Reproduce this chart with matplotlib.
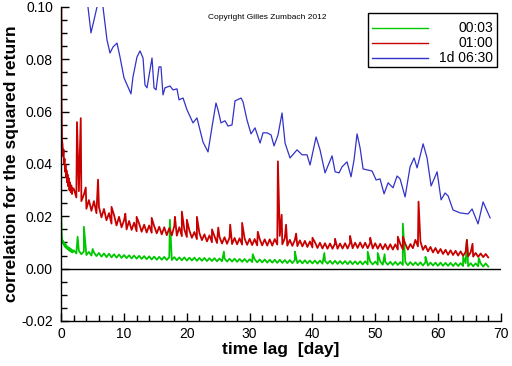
import matplotlib
matplotlib.use("Agg")
import matplotlib.pyplot as plt
import numpy as np
from matplotlib.patches import Rectangle

plt.rcParams["font.family"] = ["Liberation Sans", "DejaVu Sans"]

GREEN = "#00c800"
RED = "#c80000"
BLUE = "#3232c8"

# ---- 1d 06:30 (blue) ----
blue_lag = [4.0, 4.25, 4.73, 5.21, 5.69, 6.17, 6.64, 7.28, 7.76, 8.24, 8.87, 9.35, 9.99,
            10.63, 11.10, 11.42, 12.06, 12.54, 13.02, 13.33, 13.65, 14.45, 14.77, 15.09,
            15.56, 15.88, 16.20, 16.52, 17.31, 17.79, 18.43, 18.75, 19.39, 20.02, 20.98,
            21.61, 22.09, 22.57, 23.37, 24.01, 24.64, 24.96, 25.44, 26.08, 26.55, 27.19,
            27.67, 28.63, 28.95, 29.58, 30.22, 30.86, 31.66, 32.13, 32.77, 33.41, 33.89,
            34.52, 35.16, 35.64, 36.43, 37.55, 38.35, 39.14, 39.62, 40.58, 41.21, 42.01,
            43.13, 43.61, 44.24, 44.72, 45.51, 46.15, 46.63, 47.11, 47.59, 48.07, 49.50,
            50.14, 50.77, 51.41, 52.05, 52.84, 53.48, 53.96, 54.76, 55.55, 56.19, 56.67,
            57.63, 58.26, 58.90, 59.86, 60.49, 61.13, 61.61, 62.40, 63.52, 64.79, 65.43,
            66.38, 67.18, 68.30]
blue_corr = [0.1040, 0.1000, 0.0901, 0.0950, 0.1000, 0.1046, 0.1000, 0.0874, 0.0824, 0.0847,
             0.0862, 0.0809, 0.0729, 0.0694, 0.0668, 0.0733, 0.0809, 0.0832, 0.0805, 0.0702,
             0.0691, 0.0805, 0.0691, 0.0683, 0.0771, 0.0771, 0.0664, 0.0691, 0.0698, 0.0683,
             0.0687, 0.0645, 0.0652, 0.0607, 0.0557, 0.0576, 0.0530, 0.0484, 0.0446, 0.0542,
             0.0633, 0.0607, 0.0557, 0.0565, 0.0545, 0.0549, 0.0641, 0.0652, 0.0637, 0.0568,
             0.0515, 0.0538, 0.0480, 0.0519, 0.0519, 0.0511, 0.0469, 0.0511, 0.0595, 0.0480,
             0.0423, 0.0454, 0.0435, 0.0435, 0.0396, 0.0503, 0.0454, 0.0366, 0.0431, 0.0370,
             0.0366, 0.0389, 0.0408, 0.0351, 0.0416, 0.0515, 0.0461, 0.0381, 0.0373, 0.0339,
             0.0343, 0.0286, 0.0328, 0.0309, 0.0354, 0.0343, 0.0274, 0.0389, 0.0423, 0.0385,
             0.0477, 0.0423, 0.0316, 0.0370, 0.0263, 0.0289, 0.0278, 0.0224, 0.0213, 0.0209,
             0.0228, 0.0171, 0.0255, 0.0194]

# ---- 01:00 (red) ----
red_early_lag = [0.0, 0.04, 0.12, 0.2, 0.28, 0.36, 0.44, 0.52, 0.6, 0.68, 0.76, 0.84, 0.92,
                 1.0, 1.1, 1.2, 1.3, 1.4, 1.5, 1.6, 1.7, 1.8]
red_early_corr = [0.120, 0.0635, 0.0490, 0.0475, 0.0430, 0.0455, 0.0400, 0.0420, 0.0370,
                  0.0395, 0.0350, 0.0375, 0.0330, 0.0360, 0.0315, 0.0345, 0.0300, 0.0330,
                  0.0292, 0.0318, 0.0285, 0.0308]
red_corr = [
    0.0305, 0.0272, 0.0296, 0.0258, 0.0283, 0.0229, 0.0262, 0.0221, 0.0258, 0.0212,
    0.0236, 0.0196, 0.0228, 0.0185, 0.0212, 0.0172, 0.0205, 0.0165, 0.0198, 0.0158,
    0.0185, 0.0150, 0.0182, 0.0148, 0.0176, 0.0143, 0.0172, 0.0141, 0.0168, 0.0138,
    0.0165, 0.0137, 0.0162, 0.0135, 0.0160, 0.0131, 0.0158, 0.0128, 0.0155, 0.0127,
    0.0163, 0.0126, 0.0158, 0.0124, 0.0150, 0.0121, 0.0146, 0.0118, 0.0140, 0.0113,
    0.0136, 0.0109, 0.0131, 0.0104, 0.0127, 0.0101, 0.0124, 0.0098, 0.0121, 0.0096,
    0.0120, 0.0095, 0.0119, 0.0094, 0.0117, 0.0093, 0.0116, 0.0092, 0.0115, 0.0091,
    0.0114, 0.0090, 0.0113, 0.0089, 0.0113, 0.0089, 0.0112, 0.0088, 0.0112, 0.0088,
    0.0113, 0.0092, 0.0125, 0.0093, 0.0116, 0.0088, 0.0110, 0.0087, 0.0109, 0.0086,
    0.0108, 0.0085, 0.0106, 0.0083, 0.0104, 0.0081, 0.0101, 0.0079, 0.0099, 0.0077,
    0.0097, 0.0076, 0.0096, 0.0076, 0.0097, 0.0076, 0.0096, 0.0077, 0.0097, 0.0077,
    0.0098, 0.0078, 0.0099, 0.0079, 0.0100, 0.0079, 0.0099, 0.0078, 0.0098, 0.0077,
    0.0097, 0.0076, 0.0095, 0.0074, 0.0094, 0.0073, 0.0093, 0.0073, 0.0093, 0.0073,
    0.0094, 0.0074, 0.0094, 0.0073, 0.0094, 0.0078, 0.0110, 0.0085, 0.0104, 0.0072,
    0.0088, 0.0066, 0.0083, 0.0062, 0.0079, 0.0059, 0.0075, 0.0056, 0.0072, 0.0053,
    0.0070, 0.0052, 0.0068, 0.0050, 0.0066, 0.0049, 0.0064, 0.0047, 0.0062, 0.0046,
    0.0060, 0.0045, 0.0058, 0.0044, 0.0056, 0.0043]
red_spike_lag = [2.5, 3.1, 3.9, 5.85, 8.0, 10.2, 12.0, 14.4, 18.1, 19.2, 20.0, 21.6, 24.0,
                 25.0, 26.9, 28.8, 31.3, 34.5, 35.1, 35.8, 37.4, 40.0, 43.6, 46.0, 49.2,
                 53.6, 54.4, 56.9, 64.6, 65.5]
red_spike_corr = [0.0560, 0.0575, 0.0310, 0.0340, 0.0236, 0.0210, 0.0198, 0.0194, 0.0198,
                  0.0218, 0.0187, 0.0198, 0.0150, 0.0157, 0.0168, 0.0175, 0.0141, 0.0410,
                  0.0206, 0.0168, 0.0134, 0.0118, 0.0114, 0.0125, 0.0118, 0.0122, 0.0122,
                  0.0256, 0.0110, 0.0095]

# ---- 00:03 (green) ----
green_early_lag = [0.0, 0.04, 0.1, 0.16, 0.24, 0.32, 0.4, 0.5, 0.6, 0.7, 0.8, 0.9, 1.0,
                   1.1, 1.2, 1.3, 1.4, 1.5, 1.6, 1.7, 1.8]
green_early_corr = [0.0194, 0.0150, 0.0120, 0.0108, 0.0098, 0.0105, 0.0090, 0.0098, 0.0083,
                    0.0092, 0.0078, 0.0086, 0.0074, 0.0082, 0.0070, 0.0079, 0.0067, 0.0076,
                    0.0064, 0.0072, 0.0062]
green_corr = [
    0.0070, 0.0058, 0.0068, 0.0055, 0.0066, 0.0052, 0.0064, 0.0050, 0.0062, 0.0048,
    0.0060, 0.0046, 0.0058, 0.0044, 0.0057, 0.0043, 0.0055, 0.0042, 0.0054, 0.0041,
    0.0052, 0.0040, 0.0051, 0.0039, 0.0050, 0.0038, 0.0049, 0.0037, 0.0048, 0.0036,
    0.0047, 0.0035, 0.0046, 0.0034, 0.0045, 0.0034, 0.0045, 0.0033, 0.0044, 0.0033,
    0.0044, 0.0032, 0.0043, 0.0032, 0.0043, 0.0031, 0.0042, 0.0031, 0.0042, 0.0030,
    0.0041, 0.0030, 0.0041, 0.0029, 0.0040, 0.0029, 0.0040, 0.0028, 0.0039, 0.0028,
    0.0039, 0.0027, 0.0038, 0.0027, 0.0038, 0.0026, 0.0037, 0.0026, 0.0037, 0.0025,
    0.0036, 0.0025, 0.0036, 0.0024, 0.0035, 0.0024, 0.0035, 0.0023, 0.0034, 0.0023,
    0.0034, 0.0022, 0.0034, 0.0022, 0.0033, 0.0021, 0.0033, 0.0021, 0.0033, 0.0021,
    0.0032, 0.0020, 0.0032, 0.0020, 0.0031, 0.0020, 0.0031, 0.0019, 0.0031, 0.0019,
    0.0030, 0.0019, 0.0030, 0.0018, 0.0030, 0.0018, 0.0029, 0.0018, 0.0029, 0.0017,
    0.0029, 0.0017, 0.0028, 0.0017, 0.0028, 0.0016, 0.0028, 0.0016, 0.0027, 0.0016,
    0.0027, 0.0015, 0.0027, 0.0015, 0.0026, 0.0015, 0.0026, 0.0014, 0.0026, 0.0014,
    0.0025, 0.0014, 0.0025, 0.0013, 0.0025, 0.0013, 0.0024, 0.0013, 0.0024, 0.0012,
    0.0024, 0.0012, 0.0023, 0.0012, 0.0023, 0.0011, 0.0023, 0.0011, 0.0022, 0.0011,
    0.0022, 0.0010, 0.0022, 0.0010, 0.0021, 0.0010, 0.0021, 0.0009, 0.0021, 0.0009,
    0.0020, 0.0009, 0.0020, 0.0008, 0.0020, 0.0008]
green_spike_lag = [2.6, 3.6, 5.0, 17.3, 25.9, 30.5, 37.2, 41.9, 48.8, 50.4, 51.5, 54.4,
                   58.0, 64.0, 64.6, 66.5]
green_spike_corr = [0.0122, 0.0160, 0.0075, 0.0187, 0.0065, 0.0055, 0.0065, 0.0060, 0.0065,
                    0.0060, 0.0055, 0.0172, 0.0045, 0.0045, 0.0110, 0.0040]

# regular sampling of the lag axis after 2 days
grid_lag = np.round(np.arange(2.0, 68.01, 0.4), 2)


def build(early_lag, early_corr, grid_corr, spike_lag, spike_corr):
    lag = np.concatenate([early_lag, grid_lag, spike_lag])
    corr = np.concatenate([early_corr, grid_corr, spike_corr])
    order = np.argsort(lag, kind="stable")
    return lag[order], corr[order]


red_x, red_y = build(red_early_lag, red_early_corr, red_corr, red_spike_lag, red_spike_corr)
green_x, green_y = build(green_early_lag, green_early_corr, green_corr, green_spike_lag,
                         green_spike_corr)

fig = plt.figure(figsize=(5.12, 3.66), dpi=100)
ax = fig.add_axes([0.1197, 0.123, 0.8584, 0.858])

ax.plot(green_x, green_y, color=GREEN, lw=1.3)
ax.plot(red_x, red_y, color=RED, lw=1.3)
ax.plot(blue_lag, blue_corr, color=BLUE, lw=0.9)
ax.axhline(0, color="black", lw=1)

ax.set_xlim(0, 70)
ax.set_ylim(-0.02, 0.10)
ax.set_xticks(np.arange(0, 71, 10))
ax.set_xticks(np.arange(0, 71, 2), minor=True)
ax.set_yticks(np.arange(-0.02, 0.101, 0.02))
ax.set_yticks(np.arange(-0.02, 0.101, 0.005), minor=True)
ax.yaxis.set_major_formatter(matplotlib.ticker.FormatStrFormatter("%.2f"))
ax.tick_params(which="both", direction="in", labelsize=10, width=1, colors="black")
ax.tick_params(which="major", length=6)
ax.tick_params(which="minor", length=4)
ax.tick_params(axis="y", pad=6)
ax.tick_params(axis="x", pad=4)
for s in ("top", "right"):
    ax.spines[s].set_visible(False)
for s in ("left", "bottom"):
    ax.spines[s].set_linewidth(1)

ax.set_xlabel("time lag  [day]", fontsize=12.5, fontweight="bold", labelpad=1)
ax.set_ylabel("correlation for the squared return", fontsize=12.5, fontweight="bold",
              labelpad=1.5)

ax.text(0.468, 0.966, "Copyright Gilles Zumbach 2012", transform=ax.transAxes,
        fontsize=6, ha="center", va="center")

# legend box drawn by hand (labels right aligned)
labels = ["00:03", "01:00", "1d 06:30"]
colors = [GREEN, RED, BLUE]
bx0, by0, bx1, by1 = 368, 13, 497, 67
W, H = 512, 366
fig.patches.append(Rectangle((bx0 / W, 1 - by1 / H), (bx1 - bx0) / W, (by1 - by0) / H,
                             transform=fig.transFigure, fill=True, facecolor="white",
                             edgecolor="black", lw=1, zorder=5))
for i, (lab, c) in enumerate(zip(labels, colors)):
    yy = 1 - (28 + 15 * i) / H
    fig.add_artist(plt.Line2D([372 / W, 428 / W], [yy, yy], transform=fig.transFigure,
                              color=c, lw=1, zorder=6))
    fig.text(493 / W, yy, lab, fontsize=10, ha="right", va="center", zorder=6)

fig.savefig("out.png", dpi=100)
